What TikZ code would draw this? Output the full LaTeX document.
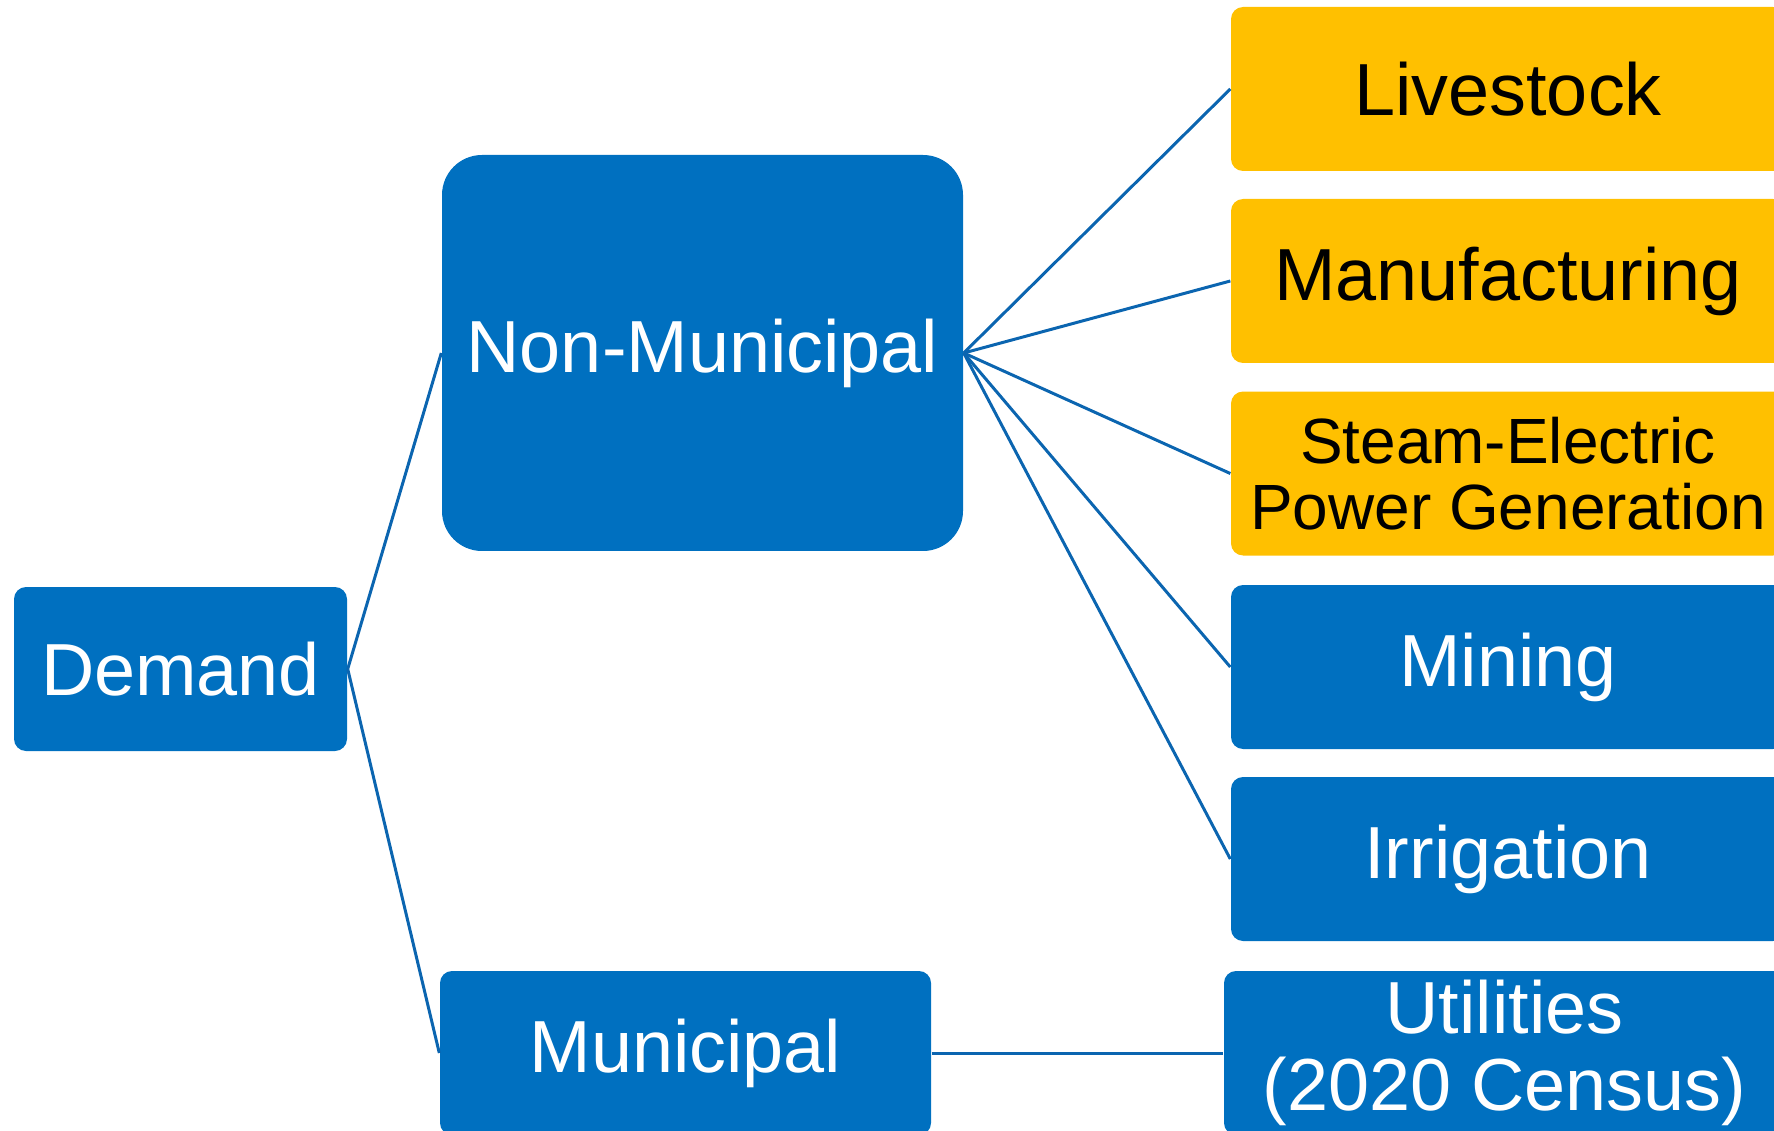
\documentclass[tikz,border=0pt]{standalone}
\usepackage{fontspec}
\setmainfont{Liberation Sans}
\definecolor{demandblue}{HTML}{0070C0}
\definecolor{demandgold}{HTML}{FFC000}
\definecolor{linkblue}{HTML}{0B65B0}

\begin{document}
\begin{tikzpicture}[x=0.1mm, y=-0.1mm,
  box/.style={rectangle, rounded corners=1.2mm, inner sep=0pt, minimum height=16.4mm,
    align=center, font=\fontsize{21}{22}\selectfont},
  bluebox/.style={box, fill=demandblue, text=white},
  goldbox/.style={box, fill=demandgold, text=black},
  link/.style={linkblue, line width=0.85pt}]
  \useasboundingbox (0,0) rectangle (1774,1131);
  \clip (0,0) rectangle (1774,1131);

  \node[bluebox, minimum width=33.3mm] (demand) at (180.5,669) {Demand};

  \node[bluebox, minimum width=52.1mm, minimum height=39.6mm, rounded corners=4mm]
    (nonmun) at (702.5,353) {Non-Municipal};
  \node[bluebox, minimum width=49.1mm] (mun) at (685.5,1053) {Municipal};

  % non-municipal uses
  \node[goldbox, minimum width=55.4mm] (livestock) at (1508,89) {Livestock};
  \node[goldbox, minimum width=55.4mm] (manuf) at (1508,281) {Manufacturing};
  \node[goldbox, minimum width=55.4mm, font=\fontsize{18.2}{18.8}\selectfont]
    (steam) at (1508,473.5) {Steam-Electric\\Power Generation};
  \node[bluebox, minimum width=55.4mm] (mining) at (1508,667) {Mining};
  \node[bluebox, minimum width=55.4mm] (irrig) at (1508,859) {Irrigation};

  % municipal use
  \node[bluebox, minimum width=56.1mm] (util) at (1504.5,1053) {Utilities\\(2020 Census)};

  \draw[link] (demand.east) -- (nonmun.west);
  \draw[link] (demand.east) -- (mun.west);
  \foreach \n in {livestock, manuf, steam, mining, irrig}
    \draw[link] (nonmun.east) -- (\n.west);
  \draw[link] (mun.east) -- (util.west);
\end{tikzpicture}
\end{document}
